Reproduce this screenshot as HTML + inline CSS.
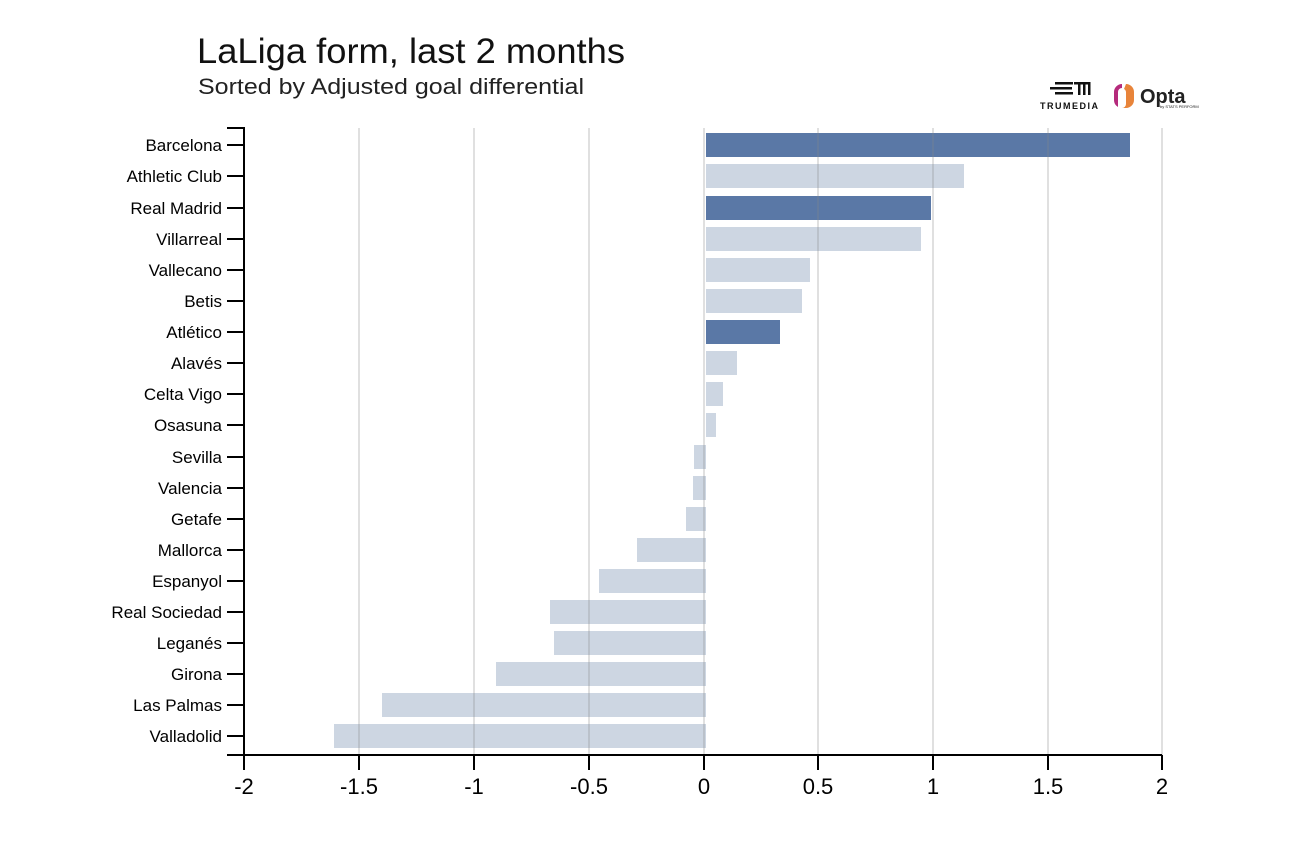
<!DOCTYPE html>
<html><head><meta charset="utf-8"><style>
body{margin:0;background:#fff}
svg{display:block}
text{font-family:"Liberation Sans",sans-serif}
</style></head><body>
<svg width="1296" height="864" viewBox="0 0 1296 864">
<rect width="1296" height="864" fill="#fff"/>
<text x="197" y="63" font-size="35" fill="#111" textLength="428" lengthAdjust="spacingAndGlyphs">LaLiga form, last 2 months</text>
<text x="198" y="94" font-size="22.5" fill="#222" textLength="386" lengthAdjust="spacingAndGlyphs">Sorted by Adjusted goal differential</text>
<!-- logos -->
<g fill="#111">
<rect x="1055" y="82" width="18" height="2.5"/><rect x="1050" y="87" width="22" height="2.5"/><rect x="1055" y="92" width="18" height="2.5"/>
<rect x="1074" y="82" width="16" height="2.5"/><rect x="1078" y="82" width="2.5" height="13"/><rect x="1083" y="82" width="2.5" height="13"/><rect x="1088" y="82" width="2.5" height="13"/>
<text x="1040" y="109" font-size="9" font-weight="bold" letter-spacing="1.5">TRUMEDIA</text>
</g>
<path d="M1122 84 a8 8 0 0 0 -8 8 v8 a8 8 0 0 0 4 7 v-15 a4 4 0 0 1 4 -4z" fill="#b52b7c"/>
<path d="M1126 84 a8 8 0 0 1 8 8 v8 a8 8 0 0 1 -8 8 h-4 a4 4 0 0 0 4 -4 v-12 a4 4 0 0 0 -2 -3z" fill="#e8843a"/>
<text x="1140" y="103" font-size="20" font-weight="bold" fill="#222">Opta</text>
<text x="1160" y="108" font-size="4" fill="#222">by STATS PERFORM</text>
<!-- bars -->
<g>
<rect x="706" y="133" width="424" height="24" fill="#5a78a6"/>
<rect x="706" y="164" width="258" height="24" fill="#cdd6e2"/>
<rect x="706" y="196" width="225" height="24" fill="#5a78a6"/>
<rect x="706" y="227" width="215" height="24" fill="#cdd6e2"/>
<rect x="706" y="258" width="104" height="24" fill="#cdd6e2"/>
<rect x="706" y="289" width="96" height="24" fill="#cdd6e2"/>
<rect x="706" y="320" width="74" height="24" fill="#5a78a6"/>
<rect x="706" y="351" width="31" height="24" fill="#cdd6e2"/>
<rect x="706" y="382" width="17" height="24" fill="#cdd6e2"/>
<rect x="706" y="413" width="10" height="24" fill="#cdd6e2"/>
<rect x="694" y="445" width="12" height="24" fill="#cdd6e2"/>
<rect x="693" y="476" width="13" height="24" fill="#cdd6e2"/>
<rect x="686" y="507" width="20" height="24" fill="#cdd6e2"/>
<rect x="637" y="538" width="69" height="24" fill="#cdd6e2"/>
<rect x="599" y="569" width="107" height="24" fill="#cdd6e2"/>
<rect x="550" y="600" width="156" height="24" fill="#cdd6e2"/>
<rect x="554" y="631" width="152" height="24" fill="#cdd6e2"/>
<rect x="496" y="662" width="210" height="24" fill="#cdd6e2"/>
<rect x="382" y="693" width="324" height="24" fill="#cdd6e2"/>
<rect x="334" y="724" width="372" height="24" fill="#cdd6e2"/>
</g>
<g stroke="#888" stroke-opacity="0.35" stroke-width="1.5">
<line x1="359" y1="128" x2="359" y2="755"/><line x1="474" y1="128" x2="474" y2="755"/>
<line x1="589" y1="128" x2="589" y2="755"/><line x1="704" y1="128" x2="704" y2="755"/>
<line x1="818" y1="128" x2="818" y2="755"/><line x1="933" y1="128" x2="933" y2="755"/>
<line x1="1048" y1="128" x2="1048" y2="755"/><line x1="1162" y1="128" x2="1162" y2="755"/>
</g>
<!-- axes -->
<g stroke="#000" stroke-width="2" fill="none">
<path d="M227 128H244V755"/>
<path d="M227 755H1162"/>
<path d="M244 755v15M359 755v15M474 755v15M589 755v15M704 755v15M818 755v15M933 755v15M1048 755v15M1162 755v15"/>
<path d="M227 145h17M227 176h17M227 208h17M227 239h17M227 270h17M227 301h17M227 332h17M227 363h17M227 394h17M227 425h17M227 457h17M227 488h17M227 519h17M227 550h17M227 581h17M227 612h17M227 643h17M227 674h17M227 705h17M227 736h17"/>
</g>
<g font-size="17" text-anchor="end" fill="#000">
<text x="222" y="151">Barcelona</text><text x="222" y="182">Athletic Club</text><text x="222" y="214">Real Madrid</text>
<text x="222" y="245">Villarreal</text><text x="222" y="276">Vallecano</text><text x="222" y="307">Betis</text>
<text x="222" y="338">Atlético</text><text x="222" y="369">Alavés</text><text x="222" y="400">Celta Vigo</text>
<text x="222" y="431">Osasuna</text><text x="222" y="463">Sevilla</text><text x="222" y="494">Valencia</text>
<text x="222" y="525">Getafe</text><text x="222" y="556">Mallorca</text><text x="222" y="587">Espanyol</text>
<text x="222" y="618">Real Sociedad</text><text x="222" y="649">Leganés</text><text x="222" y="680">Girona</text>
<text x="222" y="711">Las Palmas</text><text x="222" y="742">Valladolid</text>
</g>
<g font-size="22" text-anchor="middle" fill="#000">
<text x="244" y="794">-2</text><text x="359" y="794">-1.5</text><text x="474" y="794">-1</text>
<text x="589" y="794">-0.5</text><text x="704" y="794">0</text><text x="818" y="794">0.5</text>
<text x="933" y="794">1</text><text x="1048" y="794">1.5</text><text x="1162" y="794">2</text>
</g>
</svg>
</body></html>
